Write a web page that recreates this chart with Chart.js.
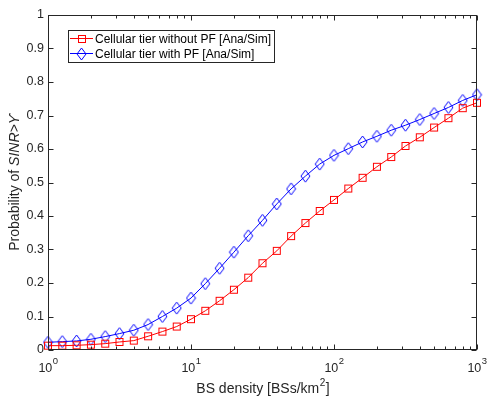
<!DOCTYPE html>
<html>
<head>
<meta charset="utf-8">
<script src="https://cdn.jsdelivr.net/npm/chart.js@4"></script>
<style>
  body { margin: 0; background: #fff; }
  canvas { display: block; }
</style>
</head>
<body>
<canvas id="chart" width="487" height="398"></canvas>
<script>
// BS density values (BSs/km^2), 10 points per decade
const density = [
  1, 1.259, 1.585, 1.995, 2.512, 3.162, 3.981, 5.012, 6.310, 7.943,
  10, 12.59, 15.85, 19.95, 25.12, 31.62, 39.81, 50.12, 63.10, 79.43,
  100, 125.9, 158.5, 199.5, 251.2, 316.2, 398.1, 501.2, 631.0, 794.3, 1000
];
const withoutPF = [
  0.013, 0.013, 0.014, 0.016, 0.019, 0.024, 0.028, 0.041, 0.055, 0.070,
  0.092, 0.117, 0.147, 0.180, 0.216, 0.259, 0.296, 0.340, 0.379, 0.415,
  0.448, 0.482, 0.514, 0.547, 0.576, 0.609, 0.635, 0.664, 0.692, 0.722, 0.738
];
const withPF = [
  0.023, 0.025, 0.027, 0.032, 0.040, 0.049, 0.059, 0.076, 0.100, 0.125,
  0.155, 0.198, 0.244, 0.292, 0.341, 0.387, 0.436, 0.481, 0.519, 0.555,
  0.581, 0.601, 0.621, 0.638, 0.656, 0.671, 0.688, 0.706, 0.724, 0.745, 0.762
];
const seriesLabels = ['Cellular tier without PF [Ana/Sim]', 'Cellular tier with PF [Ana/Sim]'];
const xMajor = [1, 10, 100, 1000];
const xMajorExp = ['0', '1', '2', '3'];
const xMinor = [2, 3, 4, 5, 6, 7, 8, 9, 20, 30, 40, 50, 60, 70, 80, 90, 200, 300, 400, 500, 600, 700, 800, 900];

const FONT = '"Liberation Sans", Arial, sans-serif';
const AXIS = '#262626';

function squareMarker(color) {
  const c = document.createElement('canvas');
  c.width = 10; c.height = 10;
  const g = c.getContext('2d');
  g.strokeStyle = color; g.lineWidth = 1;
  g.strokeRect(1.5, 1.5, 7, 7);
  return c;
}

function diamondMarker(color) {
  const c = document.createElement('canvas');
  c.width = 11; c.height = 14;
  const g = c.getContext('2d');
  g.strokeStyle = color; g.lineWidth = 1;
  g.beginPath();
  g.moveTo(5.5, 1); g.lineTo(10, 7); g.lineTo(5.5, 13); g.lineTo(1, 7);
  g.closePath(); g.stroke();
  return c;
}

const redSquare = squareMarker('#ff0000');
const blueDiamond = diamondMarker('#0000ff');

// box, inward ticks, x labels with exponents, titles and legend, matlab style
const matlabAxes = {
  id: 'matlabAxes',
  afterDraw(chart) {
    const { ctx, chartArea: a, scales: { x, y } } = chart;
    ctx.save();
    ctx.strokeStyle = AXIS;
    ctx.lineWidth = 1;
    const L = a.left + 0.5, R = a.right - 0.5, T = a.top + 0.5, B = a.bottom - 0.5;
    ctx.strokeRect(L, T, R - L, B - T);

    ctx.beginPath();
    y.ticks.forEach(t => {
      const py = Math.round(y.getPixelForValue(t.value)) + 0.5;
      ctx.moveTo(L, py); ctx.lineTo(L + 5, py);
      ctx.moveTo(R, py); ctx.lineTo(R - 5, py);
    });
    xMajor.forEach(v => {
      const px = Math.round(x.getPixelForValue(v)) + 0.5;
      ctx.moveTo(px, B); ctx.lineTo(px, B - 5);
      ctx.moveTo(px, T); ctx.lineTo(px, T + 5);
    });
    xMinor.forEach(v => {
      const px = Math.round(x.getPixelForValue(v)) + 0.5;
      ctx.moveTo(px, B); ctx.lineTo(px, B - 3);
      ctx.moveTo(px, T); ctx.lineTo(px, T + 3);
    });
    ctx.stroke();

    // x tick labels: 10^n
    ctx.fillStyle = AXIS;
    ctx.textBaseline = 'alphabetic';
    ctx.textAlign = 'left';
    xMajor.forEach((v, i) => {
      const px = x.getPixelForValue(v);
      ctx.font = '12.5px ' + FONT;
      const w1 = ctx.measureText('10').width;
      ctx.font = '9.5px ' + FONT;
      const w2 = ctx.measureText(xMajorExp[i]).width;
      const start = px - (w1 + w2) / 2;
      ctx.font = '12.5px ' + FONT;
      ctx.fillText('10', start, 372);
      ctx.font = '9.5px ' + FONT;
      ctx.fillText(xMajorExp[i], start + w1 + 0.5, 364);
    });

    // x title
    const p1 = 'BS density [BSs/km', p2 = '2', p3 = ']';
    ctx.font = '14px ' + FONT;
    const a1 = ctx.measureText(p1).width, a3 = ctx.measureText(p3).width;
    ctx.font = '10px ' + FONT;
    const a2 = ctx.measureText(p2).width;
    let sx = (a.left + a.right) / 2 - (a1 + a2 + a3) / 2;
    ctx.font = '14px ' + FONT;
    ctx.fillText(p1, sx, 393);
    ctx.font = '10px ' + FONT;
    ctx.fillText(p2, sx + a1 + 0.5, 386);
    ctx.font = '14px ' + FONT;
    ctx.fillText(p3, sx + a1 + a2 + 1, 393);

    // y title
    ctx.save();
    ctx.translate(18.5, (a.top + a.bottom) / 2);
    ctx.rotate(-Math.PI / 2);
    const q1 = 'Probability of ', q2 = 'SINR>\u03D2';
    ctx.font = '14px ' + FONT;
    const b1 = ctx.measureText(q1).width;
    ctx.font = 'italic 14px ' + FONT;
    const b2 = ctx.measureText(q2).width;
    ctx.font = '14px ' + FONT;
    ctx.fillText(q1, -(b1 + b2) / 2, 0);
    ctx.font = 'italic 14px ' + FONT;
    ctx.fillText(q2, -(b1 + b2) / 2 + b1, 0);
    ctx.restore();

    // legend
    ctx.font = '12px ' + FONT;
    const textX = 95;
    const tw = Math.max(...seriesLabels.map(s => ctx.measureText(s).width));
    const bx = 68.5, by = 30.5, bw = Math.round(textX + tw + 3 - bx), bh = 32;
    ctx.fillStyle = '#fff';
    ctx.fillRect(bx, by, bw, bh);
    ctx.strokeStyle = AXIS;
    ctx.strokeRect(bx, by, bw, bh);
    const entries = [
      { color: '#ff0000', marker: redSquare, yc: 38.5 },
      { color: '#0000ff', marker: blueDiamond, yc: 53.5 }
    ];
    ctx.textBaseline = 'middle';
    entries.forEach((e, i) => {
      ctx.strokeStyle = e.color;
      ctx.beginPath();
      ctx.moveTo(70, e.yc); ctx.lineTo(93, e.yc);
      ctx.stroke();
      ctx.drawImage(e.marker, Math.round(81.5 - e.marker.width / 2), Math.round(e.yc - e.marker.height / 2));
      ctx.fillStyle = '#000';
      ctx.fillText(seriesLabels[i], textX, e.yc + 1);
    });
    ctx.restore();
  }
};

new Chart(document.getElementById('chart'), {
  type: 'line',
  data: {
    datasets: [
      {
        label: seriesLabels[0],
        data: density.map((d, i) => ({ x: d, y: withoutPF[i] })),
        borderColor: '#ff0000',
        borderWidth: 1,
        pointStyle: redSquare,
        pointRadius: 4,
        tension: 0,
        clip: false
      },
      {
        label: seriesLabels[1],
        data: density.map((d, i) => ({ x: d, y: withPF[i] })),
        borderColor: '#0000ff',
        borderWidth: 1,
        pointStyle: blueDiamond,
        pointRadius: 5,
        tension: 0,
        clip: false
      }
    ]
  },
  options: {
    responsive: false,
    animation: false,
    layout: { padding: { top: 15, right: 10, left: 0, bottom: 0 } },
    plugins: { legend: { display: false }, tooltip: { enabled: false } },
    scales: {
      x: {
        type: 'logarithmic',
        min: 1,
        max: 1000,
        ticks: { display: false },
        grid: { display: false, drawTicks: false },
        border: { display: false },
        afterFit(s) { s.height = 48; }
      },
      y: {
        min: 0,
        max: 1,
        ticks: {
          stepSize: 0.1,
          padding: 4,
          color: AXIS,
          font: { family: FONT, size: 12.5 },
          callback: v => String(Number(v.toFixed(1)))
        },
        grid: { display: false, drawTicks: false },
        border: { display: false },
        afterFit(s) { s.width = 48; }
      }
    }
  },
  plugins: [matlabAxes]
});
</script>
</body>
</html>
